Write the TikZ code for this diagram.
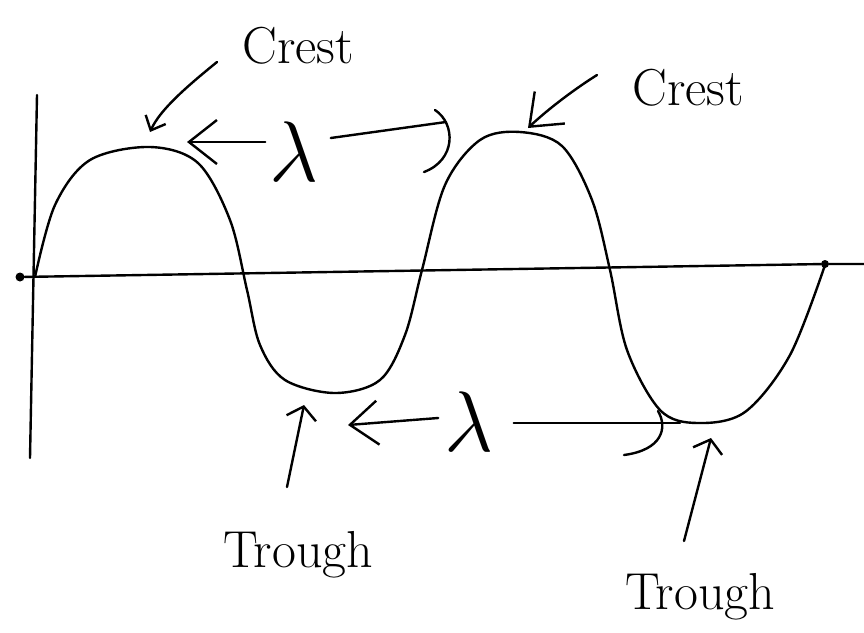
\RequirePackage{fix-cm}
\documentclass[tikz,border=0pt]{standalone}
\usetikzlibrary{arrows.meta}
\tikzset{
  ink/.style={line width=2.4pt, line cap=round, line join=round, black},
  lbl/.style={font=\fontsize{52}{60}\selectfont, inner sep=0pt},
  lam/.style={font=\fontsize{86}{90}\selectfont, inner sep=0pt},
  bigtip/.style={-{Straight Barb[length=28pt,width=44pt,line width=2.4pt]}},
  smalltip/.style={-{Straight Barb[length=12pt,width=22pt,line width=2.4pt]}},
  hooktip/.style={-{Straight Barb[length=12pt,width=30pt,line width=2.4pt]}},
  dot/.style={circle, fill=black, inner sep=0pt, minimum size=9pt}
}
\begin{document}
\begin{tikzpicture}[x=1pt,y=-1pt]
\useasboundingbox (0,0) rectangle (864,632);
\fill[white] (0,0) rectangle (864,632);

% axes
\coordinate (vtop) at (37,95);
\coordinate (vbot) at (30,458);
\coordinate (hend) at (864,264);
\node[dot] (o) at (20,277) {};
\node[dot, minimum size=8pt] (e) at (825,264) {};
\draw[ink] (vtop) -- (vbot);
\draw[ink] (o) -- (e) -- (hend);

% wave
\draw[ink] plot[smooth, tension=0.55] coordinates {
 (35,277) (55,205) (90,160) (150,147) (198,163) (230,220) (247,290) (260,345)
 (285,380) (335,393) (380,380) (405,335) (422,270) (445,185) (480,140) (520,132)
 (562,146) (592,200) (610,270) (627,350) (660,410) (697,423) (745,412) (790,355)
 (825,265)};

% labels
\node[lbl] (c1) at (298,46) {Crest};
\node[lbl] (c2) at (688,88) {Crest};
\node[lbl] (t1) at (298,555) {Trough};
\node[lbl] (t2) at (700,597) {Trough};
\node[lam] (l1) at (294,152) {$\lambda$};
\node[lam] (l2) at (469,422) {$\lambda$};

% pointer targets
\coordinate (c1s) at (217,62);
\coordinate (p1) at (150,132);
\coordinate (c2s) at (597,75);
\coordinate (p2) at (528,128);
\coordinate (t1s) at (287,487);
\coordinate (q1) at (304,405);
\coordinate (t2s) at (684,541);
\coordinate (q2) at (711,438);

\draw[ink, smalltip] (c1s) .. controls (185,88) and (160,110) .. (p1);
\draw[ink, bigtip] (c2s) .. controls (570,92) and (545,112) .. (p2);
\draw[ink, hooktip] (t1s) -- (q1);
\draw[ink, hooktip] (t2s) -- (q2);

% wavelength arrows (top)
\coordinate (a1) at (187,142);
\coordinate (b1) at (446,122);
\draw[ink, bigtip] (l1.west |- a1) ++(-4pt,0) -- (a1);
\draw[ink] (l1.east |- 0,138) ++(12pt,0) -- (b1);
\draw[ink] (435,110) .. controls (456,124) and (456,160) .. (424,172);

% wavelength arrows (bottom)
\coordinate (a2) at (348,425);
\coordinate (b2) at (680,423);
\draw[ink, bigtip] (l2.west |- 0,418) ++(-6pt,0) -- (a2);
\draw[ink] (l2.east |- b2) ++(20pt,0) -- (b2);
\draw[ink] (658,411) .. controls (668,428) and (662,450) .. (624,455);
\end{tikzpicture}
\end{document}
